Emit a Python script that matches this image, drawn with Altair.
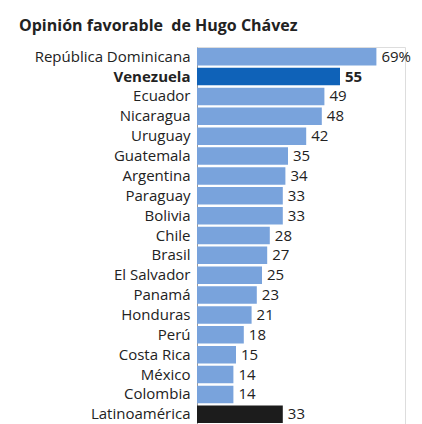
import altair as alt
import pandas as pd

countries = ["República Dominicana", "Venezuela", "Ecuador", "Nicaragua", "Uruguay",
             "Guatemala", "Argentina", "Paraguay", "Bolivia", "Chile", "Brasil",
             "El Salvador", "Panamá", "Honduras", "Perú", "Costa Rica", "México",
             "Colombia", "Latinoamérica"]
values = [69, 55, 49, 48, 42, 35, 34, 33, 33, 28, 27, 25, 23, 21, 18, 15, 14, 14, 33]
groups = ["país"] + ["Venezuela"] + ["país"] * 16 + ["Latinoamérica"]

labels = [f"{v}%" if i == 0 else str(v) for i, v in enumerate(values)]
df = pd.DataFrame({"pais": countries, "valor": values, "grupo": groups, "etiqueta": labels})

FONT = "Open Sans"

y = alt.Y("pais:N", sort=countries, title=None,
          scale=alt.Scale(paddingInner=0.12, paddingOuter=0.05),
          axis=alt.Axis(ticks=False, domain=True, domainColor="#9a9a9a", domainWidth=1,
                        labelFont=FONT, labelFontSize=15, labelColor="#222222",
                        labelPadding=7, labelLimit=300,
                        labelFontWeight=alt.expr("datum.value == 'Venezuela' ? 'bold' : 'normal'")))
x = alt.X("valor:Q", title=None, scale=alt.Scale(domain=[0, 80]), axis=None)

bars = alt.Chart(df).mark_bar().encode(
    x=x, y=y,
    color=alt.Color("grupo:N",
                    scale=alt.Scale(domain=["país", "Venezuela", "Latinoamérica"],
                                    range=["#79a3dc", "#0f62b8", "#1c1c1c"]),
                    legend=None),
)

text = alt.Chart(df).mark_text(align="left", baseline="middle", dx=5, font=FONT,
                               fontSize=15, color="#222222",
                               fontWeight=alt.expr("datum.pais == 'Venezuela' ? 'bold' : 'normal'")).encode(
    x=x, y=y, text="etiqueta:N",
)

chart = alt.layer(bars, text).properties(
    width=208, height=377,
    title=alt.TitleParams("Opinión favorable\u00a0 de Hugo Chávez", anchor="start", frame="group",
                          dx=-178, font=FONT, fontSize=16, fontWeight="bold", color="#222222",
                          offset=13),
    autosize=alt.AutoSizeParams(type="none"),
    padding={"left": 197, "top": 47, "right": 17, "bottom": 0},
).configure_view(stroke=None).configure(background="white")

chart.save("out.html", embed_options={"renderer": "svg", "actions": False})
